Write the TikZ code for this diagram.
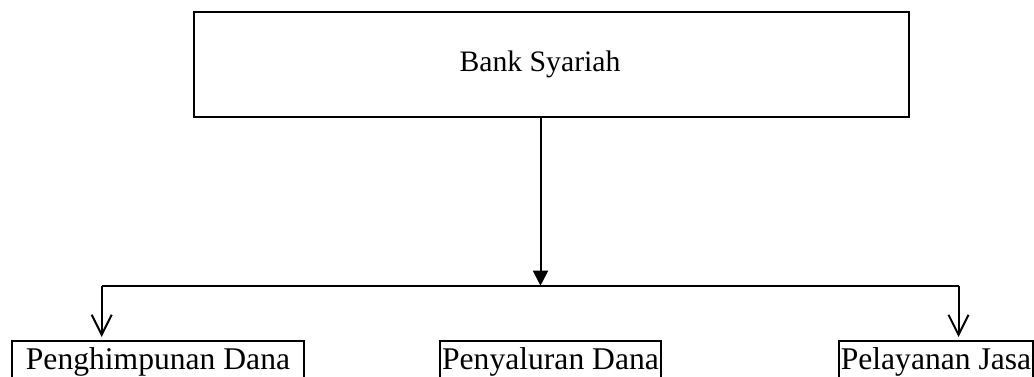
\documentclass[tikz,border=0pt]{standalone}
\usepackage{fontspec}
\setmainfont{Liberation Serif}
\usetikzlibrary{arrows.meta}
\begin{document}
\begin{tikzpicture}[x=1pt,y=-1pt,
  boxline/.style={draw=black,line width=2pt},
  topbox/.style={boxline,minimum width=715pt,minimum height=105pt,inner sep=0pt,
    font=\fontsize{29.7pt}{34pt}\selectfont},
  subbox/.style={boxline,inner xsep=0pt,inner ysep=0pt,text height=28.5pt,text depth=40pt,
    font=\fontsize{31.6pt}{36pt}\selectfont,anchor=base},
  conn/.style={line width=2pt},
  openarrow/.style={conn,-{Straight Barb[length=20pt,width=20pt,line width=2pt]}},
  fillarrow/.style={conn,-{Triangle[length=15pt,width=15pt]}}]
\useasboundingbox (0,0) rectangle (1034,377);
\clip (0,0) rectangle (1034,377);
\node[topbox] (bank) at (551.5,64.5) {Bank Syariah\hspace*{23pt}};
\node[subbox,minimum width=292pt] (hd) at (158,369) {Penghimpunan Dana};
\node[subbox,minimum width=221pt] (sd) at (550.5,369) {Penyaluran Dana};
\node[subbox,minimum width=194pt] (pj) at (936,369) {Pelayanan Jasa};
\coordinate (mid) at (540.5,285.7);
\coordinate (lc) at (101.7,285.7);
\coordinate (rc) at (958.5,285.7);
\coordinate (lt) at (101.7,337);
\coordinate (rt) at (958.5,337);
\draw[fillarrow] (bank.south -| mid) -- (mid);
\draw[conn] (lc) -- (rc);
\draw[openarrow] (lc) -- (lt);
\draw[openarrow] (rc) -- (rt);
\end{tikzpicture}
\end{document}
